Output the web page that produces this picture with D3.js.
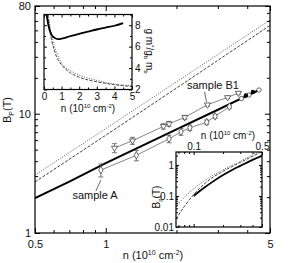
<!DOCTYPE html>
<html lang="en">
	<head>
		<meta charset="utf-8">
		<title>Bp vs n</title>
		<script src="https://d3js.org/d3.v7.min.js"></script>
		<style>
			body { margin: 0; background: #fff; }
			text { font-family: Arial, "Liberation Sans", sans-serif; fill: #111; }
		</style>
	</head>
	<body>
		<script type="text/javascript">

			// ---- data ----
			// main panel, theory curves
			var nTheory = [0.5, 0.7, 1, 1.5, 2, 3, 4, 4.5];
			var bSolid = [1.96, 2.7, 3.85, 5.65, 7.4, 10.8, 14.2, 15.8];
			var nLine = [0.5, 1, 2, 5];
			var bDotted = [3.06, 7.5, 18.5, 61];
			var bDashed = [2.68, 6.6, 16.4, 55];

			// sample B1 (down triangles)
			var nB1 = [1.09, 1.30, 1.76, 1.86, 2.17, 2.71, 3.30, 3.67];
			var bB1 = [5.16, 5.94, 7.84, 8.23, 9.33, 11.9, 13.7, 14.9];
			var eB1 = [0.45, 0.4, 0.4, 0.4, 0.35, 0.3, 0.3, 0.3];

			// sample A (diamonds)
			var nA = [0.953, 1.35, 1.86, 2.09, 2.28, 2.69, 2.92, 3.36];
			var bA = [3.37, 4.48, 6.16, 7.05, 7.62, 8.49, 9.51, 11.45];
			var eA = [0.42, 0.45, 0.45, 0.45, 0.4, 0.35, 0.35, 0.3];

			// extra points at high density
			var nOpen = [3.78, 4.07, 4.49];
			var bOpen = [13.4, 14.35, 15.8];
			var nFill = [3.95, 4.23];
			var bFill = [14.2, 15.2];

			// top inset: g m*/g_b m_b vs n
			var nG = [0.15, 0.25, 0.4, 0.6, 0.8, 1, 1.5, 2, 2.5, 3, 3.5, 4, 4.5];
			var gSolid = [9.0, 8.0, 7.2, 6.82, 6.7, 6.75, 6.98, 7.2, 7.4, 7.6, 7.78, 7.95, 8.2];
			var nGdot = [0.25, 0.35, 0.5, 0.75, 1, 1.5, 2, 3, 4, 5];
			var gDotted = [9.0, 7.8, 6.6, 5.3, 4.45, 3.75, 3.35, 2.85, 2.5, 2.35];
			var nGdash = [0.22, 0.3, 0.45, 0.7, 1, 1.5, 2, 3, 4, 5];
			var gDashed = [9.0, 7.8, 6.5, 5.1, 4.3, 3.55, 3.15, 2.72, 2.45, 2.28];

			// bottom inset: low density
			var nLs = [0.1, 0.13, 0.16, 0.2, 0.25, 0.3, 0.4, 0.5];
			var bLsolid = [0.1, 0.19, 0.3, 0.47, 0.7, 0.93, 1.45, 1.96];
			var nLd = [0.066, 0.08, 0.1, 0.15, 0.2, 0.3, 0.5];
			var bLdotted = [0.045, 0.09, 0.17, 0.42, 0.7, 1.3, 3.06];
			var bLdashed = [0.018, 0.045, 0.11, 0.36, 0.62, 1.2, 2.68];

			// tick values
			var xMajor = [0.5, 1, 5];
			var xMinor = [0.6, 0.7, 0.8, 0.9, 2, 3, 4];
			var yMajor = [1, 10, 80];
			var yMinor = [2, 3, 4, 5, 6, 7, 8, 9, 20, 30, 40, 50, 60, 70];
			var gTicks = [2, 4, 6, 8];
			var lxMajor = [0.1, 0.5];
			var lxMinor = [0.07, 0.08, 0.09, 0.2, 0.3, 0.4];
			var lyMajor = [0.01, 0.1, 1];
			var lyMinor = [0.02, 0.03, 0.04, 0.05, 0.06, 0.07, 0.08, 0.09, 0.2, 0.3, 0.4, 0.5, 0.6, 0.7, 0.8, 0.9, 2];

			var w = 289, h = 263;
			var svg = d3.select("body").append("svg").attr("width", w).attr("height", h);

			// ---- main panel ----
			var x = d3.scaleLog().domain([0.5, 5]).range([35, 270]);
			var y = d3.scaleLog().domain([1, 80]).range([233, 6]);

			function fmt(d) { return String(d); }

			function addAxis(g, axisFn, scale, major, minor, tx, ty, big, small, labels, pad) {
				var a = axisFn(scale).tickValues(major).tickSize(-big).tickSizeOuter(0).tickPadding(pad);
				if (!labels) a.tickFormat("");
				else a.tickFormat(fmt);
				var ga = g.append("g").attr("transform", "translate(" + tx + "," + ty + ")").call(a);
				if (minor) {
					var gm = g.append("g").attr("transform", "translate(" + tx + "," + ty + ")")
						.call(axisFn(scale).tickValues(minor).tickSize(-small).tickSizeOuter(0).tickFormat(""));
					gm.select(".domain").remove();
				}
				ga.select(".domain").remove();
				return ga;
			}

			var main = svg.append("g");
			var clipM = svg.append("clipPath").attr("id", "clipM");
			clipM.append("rect").attr("x", 35).attr("y", 6).attr("width", 235).attr("height", 227);

			var lineM = d3.line().x(function(d) { return x(d[0]); }).y(function(d) { return y(d[1]); });

			var curves = main.append("g").attr("clip-path", "url(#clipM)");
			curves.append("path").datum(d3.zip(nLine, bDotted)).attr("d", lineM)
				.attr("fill", "none").attr("stroke", "#555").attr("stroke-width", 1).attr("stroke-dasharray", "1,1.5");
			curves.append("path").datum(d3.zip(nLine, bDashed)).attr("d", lineM)
				.attr("fill", "none").attr("stroke", "#444").attr("stroke-width", 1).attr("stroke-dasharray", "3,1.5");

			// data series lines
			curves.append("path").datum(d3.zip(nB1, bB1)).attr("d", lineM)
				.attr("fill", "none").attr("stroke", "#666").attr("stroke-width", 0.8);
			curves.append("path").datum(d3.zip(nA, bA)).attr("d", lineM)
				.attr("fill", "none").attr("stroke", "#666").attr("stroke-width", 0.8);

			curves.append("path").datum(d3.zip(nTheory, bSolid)).attr("d", lineM)
				.attr("fill", "none").attr("stroke", "#000").attr("stroke-width", 2);

			// error bars
			function errBars(ns, bs, es) {
				var g = main.append("g").attr("stroke", "#555").attr("stroke-width", 0.8);
				ns.forEach(function(n, i) {
					var cx = x(n), y0 = y(bs[i] - es[i]), y1 = y(bs[i] + es[i]);
					g.append("line").attr("x1", cx).attr("x2", cx).attr("y1", y0).attr("y2", y1);
					g.append("line").attr("x1", cx - 2.5).attr("x2", cx + 2.5).attr("y1", y0).attr("y2", y0);
					g.append("line").attr("x1", cx - 2.5).attr("x2", cx + 2.5).attr("y1", y1).attr("y2", y1);
				});
			}
			errBars(nB1, bB1, eB1);
			errBars(nA, bA, eA);

			var tri = d3.symbol().type(d3.symbolTriangle).size(16);
			var dia = d3.symbol().type(d3.symbolDiamond).size(17);

			main.selectAll(".tri").data(d3.zip(nB1, bB1)).enter().append("path")
				.attr("d", tri)
				.attr("transform", function(d) { return "translate(" + x(d[0]) + "," + y(d[1]) + ") rotate(180)"; })
				.attr("fill", "#fff").attr("stroke", "#444").attr("stroke-width", 0.8);
			main.selectAll(".dia").data(d3.zip(nA, bA)).enter().append("path")
				.attr("d", dia)
				.attr("transform", function(d) { return "translate(" + x(d[0]) + "," + y(d[1]) + ")"; })
				.attr("fill", "#fff").attr("stroke", "#444").attr("stroke-width", 0.8);
			main.selectAll(".open").data(d3.zip(nOpen, bOpen)).enter().append("circle")
				.attr("cx", function(d) { return x(d[0]); }).attr("cy", function(d) { return y(d[1]); })
				.attr("r", 2.2).attr("fill", "#fff").attr("stroke", "#444").attr("stroke-width", 0.8);
			main.selectAll(".fill").data(d3.zip(nFill, bFill)).enter().append("circle")
				.attr("cx", function(d) { return x(d[0]); }).attr("cy", function(d) { return y(d[1]); })
				.attr("r", 2.2).attr("fill", "#000");

			// sample labels with leader lines
			main.append("line").attr("x1", x(nB1[5]) - 1).attr("y1", y(bB1[5]) - 3)
				.attr("x2", x(nB1[5]) - 3).attr("y2", y(bB1[5]) - 13).attr("stroke", "#444").attr("stroke-width", 0.8);
			main.append("text").attr("x", 213).attr("y", 89).attr("text-anchor", "middle")
				.attr("font-size", 11).text("sample B1");
			main.append("line").attr("x1", x(nA[0])).attr("y1", y(bA[0]) + 10)
				.attr("x2", x(nA[0]) - 5).attr("y2", y(bA[0]) + 21).attr("stroke", "#444").attr("stroke-width", 0.8);
			main.append("text").attr("x", 95).attr("y", 199).attr("text-anchor", "middle")
				.attr("font-size", 11).text("sample A");

			// frame + axes
			main.append("rect").attr("x", 35).attr("y", 6).attr("width", 235).attr("height", 227)
				.attr("fill", "none").attr("stroke", "#000").attr("stroke-width", 1.2);
			var axM = main.append("g").attr("font-size", 11);
			addAxis(axM, d3.axisBottom, x, xMajor, xMinor, 0, 233, 5, 3, true, 7);
			addAxis(axM, d3.axisTop, x, xMajor, xMinor, 0, 6, 5, 3, false, 3);
			addAxis(axM, d3.axisLeft, y, yMajor, yMinor, 35, 0, 5, 3, true, 4);
			addAxis(axM, d3.axisRight, y, yMajor, yMinor, 270, 0, 5, 3, false, 3);
			axM.selectAll("text").attr("font-size", 11).attr("font-family", "Arial, 'Liberation Sans', sans-serif");

			// main titles
			var xt = main.append("text").attr("x", 153).attr("y", 259).attr("text-anchor", "middle").attr("font-size", 11);
			xt.append("tspan").text("n (10");
			xt.append("tspan").attr("dy", -4).attr("font-size", 7).text("10");
			xt.append("tspan").attr("dy", 4).text(" cm");
			xt.append("tspan").attr("dy", -4).attr("font-size", 7).text("-2");
			xt.append("tspan").attr("dy", 4).text(")");

			var yt = main.append("text").attr("transform", "translate(11,110) rotate(-90)")
				.attr("text-anchor", "middle").attr("font-size", 11);
			yt.append("tspan").text("B");
			yt.append("tspan").attr("dy", 3).attr("font-size", 7).text("P");
			yt.append("tspan").attr("dy", -3).text("(T)");

			// ---- top inset ----
			var ix = d3.scaleLinear().domain([0, 5]).range([44, 132]);
			var iy = d3.scaleLinear().domain([2, 9]).range([89.5, 14.5]);
			var ins = svg.append("g");
			ins.append("rect").attr("x", 44).attr("y", 14.5).attr("width", 88).attr("height", 75).attr("fill", "#fff");
			svg.append("clipPath").attr("id", "clipI").append("rect")
				.attr("x", 44).attr("y", 14.5).attr("width", 88).attr("height", 75);
			var lineI = d3.line().curve(d3.curveMonotoneX).x(function(d) { return ix(d[0]); }).y(function(d) { return iy(d[1]); });
			var ci = ins.append("g").attr("clip-path", "url(#clipI)");
			ci.append("path").datum(d3.zip(nGdot, gDotted)).attr("d", lineI)
				.attr("fill", "none").attr("stroke", "#555").attr("stroke-width", 1).attr("stroke-dasharray", "1,1.5");
			ci.append("path").datum(d3.zip(nGdash, gDashed)).attr("d", lineI)
				.attr("fill", "none").attr("stroke", "#444").attr("stroke-width", 1).attr("stroke-dasharray", "3,1.5");
			ci.append("path").datum(d3.zip(nG, gSolid)).attr("d", lineI)
				.attr("fill", "none").attr("stroke", "#000").attr("stroke-width", 1.8);
			ins.append("rect").attr("x", 44).attr("y", 14.5).attr("width", 88).attr("height", 75)
				.attr("fill", "none").attr("stroke", "#000").attr("stroke-width", 1.2);
			var axI = ins.append("g");
			addAxis(axI, d3.axisBottom, ix, [0, 1, 2, 3, 4, 5], [0.5, 1.5, 2.5, 3.5, 4.5], 0, 89.5, 3, 2, true, 3);
			addAxis(axI, d3.axisTop, ix, [0, 1, 2, 3, 4, 5], [0.5, 1.5, 2.5, 3.5, 4.5], 0, 14.5, 3, 2, false, 3);
			addAxis(axI, d3.axisRight, iy, gTicks, [3, 5, 7, 9], 132, 0, 3, 2, true, 3);
			addAxis(axI, d3.axisLeft, iy, gTicks, [3, 5, 7, 9], 44, 0, 3, 2, false, 3);
			axI.selectAll("text").attr("font-size", 10).attr("font-family", "Arial, 'Liberation Sans', sans-serif");

			var ixt = ins.append("text").attr("x", 88).attr("y", 112).attr("text-anchor", "middle").attr("font-size", 10);
			ixt.append("tspan").text("n (10");
			ixt.append("tspan").attr("dy", -4).attr("font-size", 6).text("10");
			ixt.append("tspan").attr("dy", 4).text(" cm");
			ixt.append("tspan").attr("dy", -4).attr("font-size", 6).text("-2");
			ixt.append("tspan").attr("dy", 4).text(")");

			var iyt = ins.append("text").attr("transform", "translate(146,51) rotate(90)")
				.attr("text-anchor", "middle").attr("font-size", 10);
			iyt.append("tspan").text("g m");
			iyt.append("tspan").attr("dy", -4).attr("font-size", 6).text("*");
			iyt.append("tspan").attr("dy", 4).text("/g");
			iyt.append("tspan").attr("dy", 2).attr("font-size", 6).text("b");
			iyt.append("tspan").attr("dy", -2).text(" m");
			iyt.append("tspan").attr("dy", 2).attr("font-size", 6).text("b");

			// ---- bottom inset ----
			var lx = d3.scaleLog().domain([0.066, 0.5]).range([176, 262]);
			var ly = d3.scaleLog().domain([0.01, 2.6]).range([227, 152]);
			var low = svg.append("g");
			low.append("rect").attr("x", 176).attr("y", 152).attr("width", 86).attr("height", 75).attr("fill", "#fff");
			svg.append("clipPath").attr("id", "clipL").append("rect")
				.attr("x", 176).attr("y", 152).attr("width", 86).attr("height", 75);
			var lineL = d3.line().curve(d3.curveMonotoneX).x(function(d) { return lx(d[0]); }).y(function(d) { return ly(d[1]); });
			var cl = low.append("g").attr("clip-path", "url(#clipL)");
			cl.append("path").datum(d3.zip(nLd, bLdotted)).attr("d", lineL)
				.attr("fill", "none").attr("stroke", "#555").attr("stroke-width", 1).attr("stroke-dasharray", "1,1.5");
			cl.append("path").datum(d3.zip(nLd, bLdashed)).attr("d", lineL)
				.attr("fill", "none").attr("stroke", "#444").attr("stroke-width", 1).attr("stroke-dasharray", "3,1.5");
			cl.append("path").datum(d3.zip(nLs, bLsolid)).attr("d", lineL)
				.attr("fill", "none").attr("stroke", "#000").attr("stroke-width", 1.8);
			low.append("rect").attr("x", 176).attr("y", 152).attr("width", 86).attr("height", 75)
				.attr("fill", "none").attr("stroke", "#000").attr("stroke-width", 1.2);
			var axL = low.append("g");
			addAxis(axL, d3.axisTop, lx, lxMajor, lxMinor, 0, 152, 3, 2, true, 2);
			addAxis(axL, d3.axisBottom, lx, lxMajor, lxMinor, 0, 227, 3, 2, false, 3);
			addAxis(axL, d3.axisLeft, ly, lyMajor, lyMinor, 176, 0, 3, 2, true, 2);
			addAxis(axL, d3.axisRight, ly, lyMajor, lyMinor, 262, 0, 3, 2, false, 3);
			axL.selectAll("text").attr("font-size", 10).attr("font-family", "Arial, 'Liberation Sans', sans-serif");

			var lxt = low.append("text").attr("x", 228).attr("y", 139).attr("text-anchor", "middle").attr("font-size", 10);
			lxt.append("tspan").text("n (10");
			lxt.append("tspan").attr("dy", -4).attr("font-size", 6).text("10");
			lxt.append("tspan").attr("dy", 4).text(" cm");
			lxt.append("tspan").attr("dy", -4).attr("font-size", 6).text("-2");
			lxt.append("tspan").attr("dy", 4).text(")");

			var lyt = low.append("text").attr("transform", "translate(160,197) rotate(-90)")
				.attr("text-anchor", "middle").attr("font-size", 10);
			lyt.append("tspan").text("B");
			lyt.append("tspan").attr("dy", 2).attr("font-size", 6).text("p");
			lyt.append("tspan").attr("dy", -2).text("(T)");

		</script>
	</body>
</html>
